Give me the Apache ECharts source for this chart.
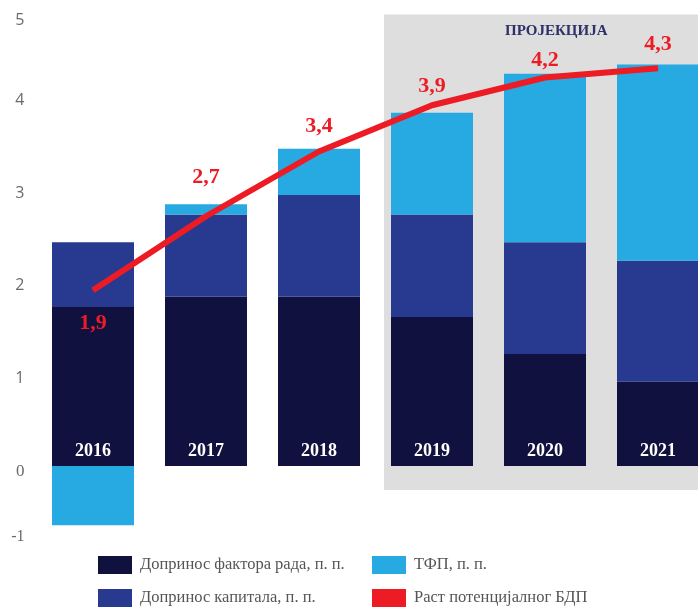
<!DOCTYPE html>
<html>
<head>
<meta charset="utf-8">
<script src="https://cdn.jsdelivr.net/npm/echarts@6/dist/echarts.min.js"></script>
<style>
  html, body { margin: 0; padding: 0; background: #fff; }
  #chart { width: 698px; height: 610px; }
</style>
</head>
<body>
<div id="chart"></div>
<script>
// godine
var years = ['2016', '2017', '2018', '2019', '2020', '2021']
// doprinosi, p. p.
var labour = [1.72, 1.83, 1.83, 1.61, 1.21, 0.91]
var capital = [0.70, 0.89, 1.10, 1.11, 1.21, 1.31]
var tfp = [-0.64, 0.11, 0.50, 1.10, 1.82, 2.12]
// rast potencijalnog BDP
var growth = [1.9, 2.7, 3.4, 3.9, 4.2, 4.3]
var yTicks = [-1, 0, 1, 2, 3, 4, 5]

var names = [
    'Допринос фактора рада, п. п.',
    'Допринос капитала, п. п.',
    'ТФП, п. п.',
    'Раст потенцијалног БДП'
]

var serif = '"Liberation Serif", "DejaVu Serif", serif'
// razmak oznake od linije, po tački
var labelGap = [22, 27, 14, 7, 6, 12]

var myChart = echarts.init(document.getElementById('chart'))

var legendBase = {
    orient: 'vertical',
    top: 556,
    padding: 0,
    itemWidth: 34,
    itemHeight: 18,
    itemGap: 15,
    icon: 'rect',
    textStyle: { fontFamily: serif, fontSize: 16.5, color: '#555', padding: [0, 0, 0, 3] }
}

myChart.setOption({
    animation: false,
    grid: {
        left: 36.5,
        right: -16.5,
        top: 3.5,
        bottom: 51.5,
        outerBoundsMode: 'none'
    },
    legend: [
        Object.assign({}, legendBase, { left: 98, data: [names[0], names[1]] }),
        Object.assign({}, legendBase, { left: 372, data: [names[2], names[3]] })
    ],
    xAxis: [
        {
            type: 'category',
            data: years,
            axisLine: { show: false },
            axisTick: { show: false },
            axisLabel: { show: false }
        },
        {
            // pomoćna osa za sivu pozadinu projekcije
            type: 'value',
            position: 'top',
            min: -0.5,
            max: 5.5,
            show: false
        }
    ],
    yAxis: {
        type: 'value',
        min: yTicks[0],
        max: yTicks[yTicks.length - 1],
        interval: 1,
        splitLine: { show: false },
        axisLine: { show: false },
        axisTick: { show: false },
        axisLabel: {
            margin: 12,
            color: '#6b6b6b',
            fontFamily: '"Open Sans", sans-serif',
            fontSize: 16,
            formatter: function (v) {
                if (v === 5) return '{a|' + v + '}'
                if (v === -1) return '{b|' + v + '}'
                if (v === 0) return '{z|' + v + '}'
                return '{n|' + v + '}'
            },
            rich: {
                a: { padding: [33, 0, 0, 0], fontSize: 16, color: '#6b6b6b' },
                b: { padding: [0, 0, 43, 0], fontSize: 16, color: '#6b6b6b', fontFamily: serif },
                z: { padding: [12, 0, 0, 0], fontSize: 17, color: '#6b6b6b', fontFamily: serif },
                n: { padding: [9, 0, 0, 0], fontSize: 16, color: '#6b6b6b' }
            }
        }
    },
    series: [
        {
            name: 'bg',
            type: 'line',
            xAxisIndex: 1,
            z: 1,
            silent: true,
            data: [],
            markArea: {
                silent: true,
                itemStyle: { color: '#dedede' },
                label: {
                    show: true,
                    position: 'insideTop',
                    distance: 9,
                    offset: [7, 0],
                    color: '#2e3168',
                    fontFamily: serif,
                    fontWeight: 'bold',
                    fontSize: 15,
                    formatter: 'ПРОЈЕКЦИЈА'
                },
                data: [[{ xAxis: 2.575, yAxis: 4.88 }, { xAxis: 5.5, yAxis: -0.26 }]]
            }
        },
        {
            name: names[0],
            type: 'bar',
            stack: 'c',
            barWidth: 82,
            itemStyle: { color: '#11113f' },
            label: {
                // godina upisana pri dnu stubca
                show: true,
                position: 'insideBottom',
                distance: 6,
                formatter: '{b}',
                color: '#fff',
                fontFamily: serif,
                fontWeight: 'bold',
                fontSize: 18
            },
            data: labour
        },
        {
            name: names[1],
            type: 'bar',
            stack: 'c',
            itemStyle: { color: '#283a8f' },
            data: capital
        },
        {
            name: names[2],
            type: 'bar',
            stack: 'c',
            itemStyle: { color: '#27aae1' },
            data: tfp
        },
        {
            name: names[3],
            type: 'line',
            z: 5,
            symbol: 'circle',
            symbolSize: 1,
            itemStyle: { color: '#ed1c24' },
            lineStyle: { color: '#ed1c24', width: 6 },
            label: {
                show: true,
                position: 'top',
                color: '#ed1c24',
                fontFamily: serif,
                fontWeight: 'bold',
                fontSize: 22,
                formatter: function (p) {
                    return String(p.value).replace('.', ',')
                }
            },
            data: growth.map(function (v, i) {
                return {
                    value: v,
                    label: { position: i === 0 ? 'bottom' : 'top', distance: labelGap[i] }
                }
            })
        }
    ]
}, true)
</script>
</body>
</html>
